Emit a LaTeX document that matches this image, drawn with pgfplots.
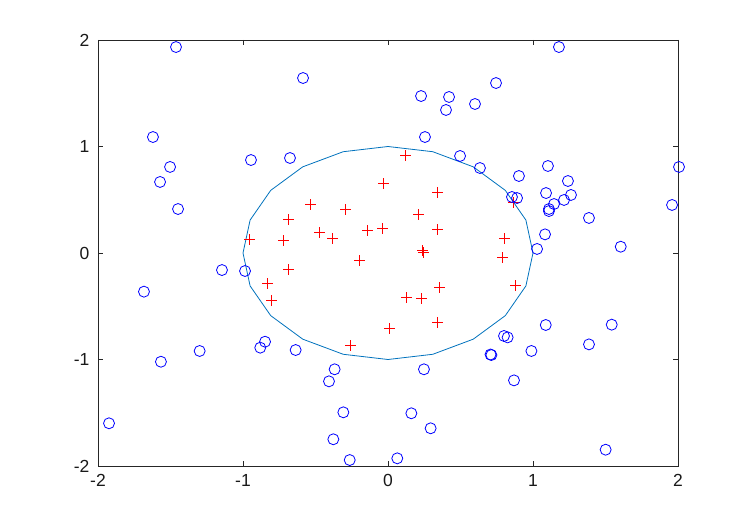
\documentclass[border=0pt]{standalone}
\usepackage{fontspec}
\setmainfont{Liberation Sans}
\usepackage{pgfplots}
\pgfplotsset{compat=1.18}
\definecolor{octblue}{rgb}{0,0.447,0.741}
\begin{document}
\begin{tikzpicture}
\useasboundingbox (0,0) rectangle (750bp,525bp);
\begin{axis}[
  at={(98bp,59bp)}, anchor=south west, scale only axis,
  width=580bp, height=426bp,
  xmin=-2, xmax=2, ymin=-2, ymax=2,
  xtick={-2,-1,0,1,2}, ytick={-2,-1,0,1,2},
  tick align=inside, major tick length=5bp,
  axis line style={black!85, line width=0.6bp},
  tick style={black!85, line width=0.6bp},
  ticklabel style={font=\fontsize{17.5bp}{20bp}\selectfont, text=black!90},
  xticklabel style={yshift=-5bp},
  yticklabel style={xshift=-5bp},
  /pgf/number format/assume math mode=true,
  clip=false,
]
\addplot[only marks, mark=+, draw=red, mark size=5bp, line width=1bp, mark options={draw=red, line cap=rect}] table {
x y
0.124 0.920
-0.028 0.654
-0.533 0.460
-0.290 0.404
-0.688 0.310
-0.956 0.129
-0.722 0.116
-0.469 0.191
-0.384 0.138
-0.143 0.209
-0.039 0.232
0.340 0.570
0.209 0.366
0.340 0.216
0.802 0.138
0.864 0.476
0.237 0.028
0.248 0.003
0.791 -0.040
0.880 -0.307
0.354 -0.322
0.129 -0.416
0.228 -0.425
0.340 -0.654
0.009 -0.707
-0.198 -0.072
-0.683 -0.153
-0.830 -0.285
-0.802 -0.448
-0.260 -0.873
};
\addplot[only marks, mark=o, color=blue, mark size=5.5bp, line width=0.8bp] table {
x y
-1.462 1.934
-0.586 1.643
-1.621 1.089
-1.503 0.808
-1.572 0.667
-1.448 0.413
-0.945 0.873
-0.676 0.892
0.228 1.474
0.421 1.465
0.400 1.343
0.600 1.399
0.745 1.596
1.179 1.934
0.255 1.089
0.497 0.911
0.634 0.798
0.903 0.723
0.855 0.526
0.890 0.516
1.103 0.817
1.241 0.676
1.090 0.563
1.262 0.545
1.214 0.498
1.145 0.460
1.110 0.413
1.110 0.394
1.386 0.329
2.007 0.808
1.959 0.451
1.083 0.175
1.028 0.038
1.605 0.059
-1.145 -0.160
-0.986 -0.169
-1.683 -0.363
-1.566 -1.021
-1.299 -0.920
-0.848 -0.833
-0.881 -0.889
-0.637 -0.911
-0.368 -1.092
-0.407 -1.205
-0.308 -1.496
-0.377 -1.749
-0.264 -1.944
-1.924 -1.599
1.088 -0.676
0.800 -0.779
0.825 -0.792
0.713 -0.958
0.707 -0.953
0.989 -0.920
1.543 -0.673
1.386 -0.858
0.248 -1.092
0.869 -1.196
0.161 -1.505
0.294 -1.646
0.064 -1.928
1.501 -1.847
};
\addplot[color=octblue, line width=0.8bp, mark=none] table {
x y
0 1
0.309 0.951
0.588 0.809
0.809 0.588
0.951 0.309
1 0
0.951 -0.309
0.809 -0.588
0.588 -0.809
0.309 -0.951
0 -1
-0.309 -0.951
-0.588 -0.809
-0.809 -0.588
-0.951 -0.309
-1 0
-0.951 0.309
-0.809 0.588
-0.588 0.809
-0.309 0.951
0 1
};
\end{axis}
\end{tikzpicture}
\end{document}
